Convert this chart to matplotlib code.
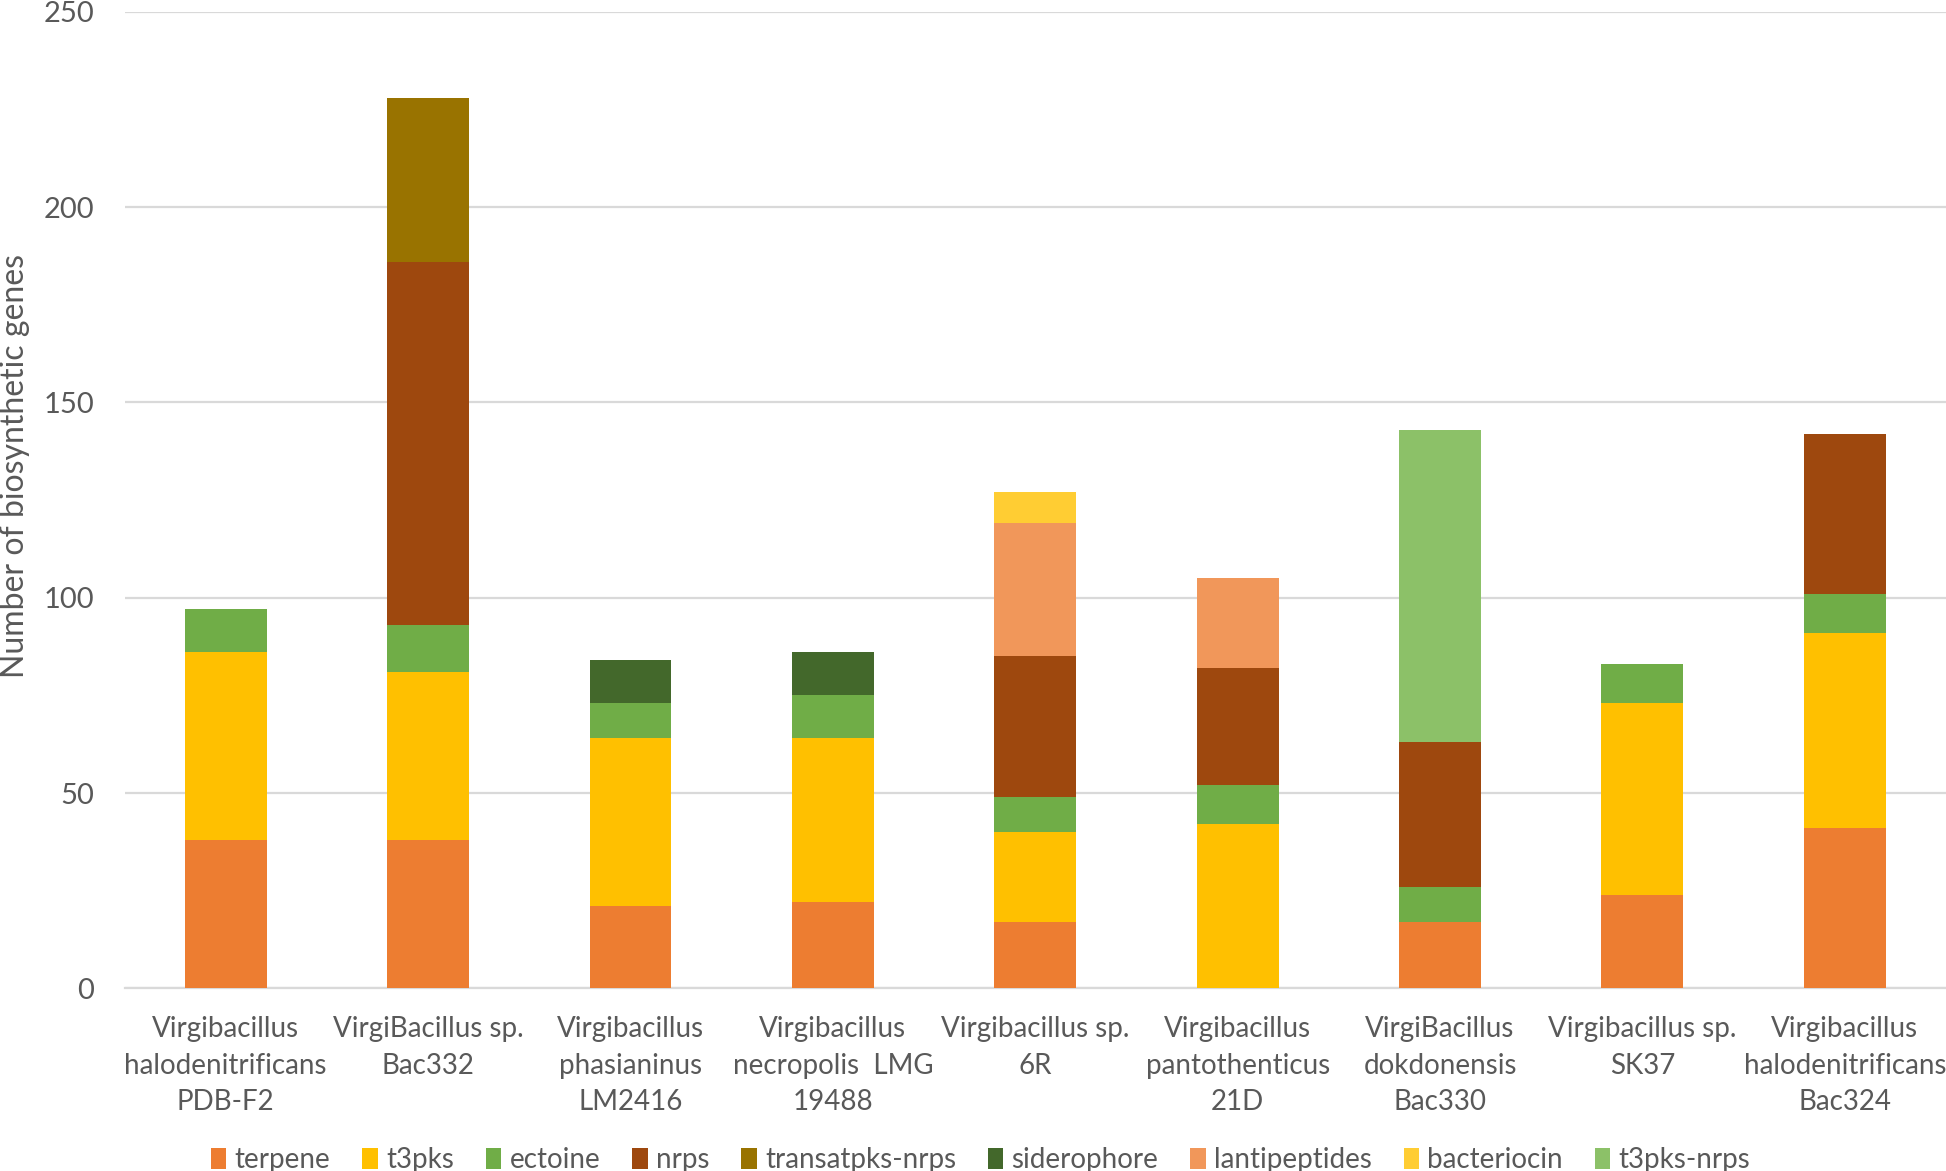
import numpy as np
import matplotlib
matplotlib.use("Agg")
import matplotlib.pyplot as plt

# ----------------------------------------------------
# Data
# ----------------------------------------------------
strains = [
    "Virgibacillus\nhalodenitrificans\nPDB-F2",
    "VirgiBacillus sp.\nBac332",
    "Virgibacillus\nphasianinus\nLM2416",
    "Virgibacillus\nnecropolis  LMG\n19488",
    "Virgibacillus sp.\n6R",
    "Virgibacillus\npantothenticus\n21D",
    "VirgiBacillus\ndokdonensis\nBac330",
    "Virgibacillus sp.\nSK37",
    "Virgibacillus\nhalodenitrificans\nBac324",
]

terpene = [38, 38, 21, 22, 17, 0, 17, 24, 41]
t3pks = [48, 43, 43, 42, 23, 42, 0, 49, 50]
ectoine = [11, 12, 9, 11, 9, 10, 9, 10, 10]
nrps = [0, 93, 0, 0, 36, 30, 37, 0, 41]
transatpks_nrps = [0, 42, 0, 0, 0, 0, 0, 0, 0]
siderophore = [0, 0, 11, 11, 0, 0, 0, 0, 0]
lantipeptides = [0, 0, 0, 0, 34, 23, 0, 0, 0]
bacteriocin = [0, 0, 0, 0, 8, 0, 0, 0, 0]
t3pks_nrps = [0, 0, 0, 0, 0, 0, 80, 0, 0]

series = [
    ("terpene", terpene, "#ED7D31"),
    ("t3pks", t3pks, "#FFC000"),
    ("ectoine", ectoine, "#70AD47"),
    ("nrps", nrps, "#9E480E"),
    ("transatpks-nrps", transatpks_nrps, "#997300"),
    ("siderophore", siderophore, "#43682B"),
    ("lantipeptides", lantipeptides, "#F1975A"),
    ("bacteriocin", bacteriocin, "#FFCD33"),
    ("t3pks-nrps", t3pks_nrps, "#8CC168"),
]

# ----------------------------------------------------
# Plot
# ----------------------------------------------------
plt.rcParams["font.family"] = ["Lato", "DejaVu Sans"]
text_col = "#595959"

fig = plt.figure(figsize=(19.46, 11.71), dpi=100)
ax = fig.add_axes([0.064, 0.156, 0.936, 0.834])

x = np.arange(len(strains))
bottom = np.zeros(len(strains))
for name, vals, col in series:
    vals = np.array(vals, dtype=float)
    ax.bar(x, vals, 0.405, bottom=bottom, color=col, label=name, zorder=3)
    bottom += vals

ax.set_xlim(-0.5, len(strains) - 0.5)
ax.set_ylim(0, 250)
ax.set_yticks(range(0, 251, 50))
ax.yaxis.grid(True, color="#D9D9D9", linewidth=1.6, zorder=0)
ax.set_axisbelow(True)

for s in ["top", "right", "left"]:
    ax.spines[s].set_visible(False)
ax.spines["bottom"].set_color("#D9D9D9")
ax.spines["bottom"].set_linewidth(1.6)

ax.set_xticks(x)
ax.set_xticklabels(strains, fontsize=20, color=text_col, linespacing=1.5)
ax.tick_params(axis="x", length=0, pad=20)
ax.tick_params(axis="y", length=0, pad=22, labelsize=21, labelcolor=text_col)

ax.set_ylabel("Number of biosynthetic genes", fontsize=23, color=text_col)
ax.yaxis.set_label_coords(-0.052, 0.535)

fig.legend(loc="lower center", bbox_to_anchor=(0.504, -0.023), ncol=9, frameon=False,
           fontsize=20, labelcolor=text_col, handlelength=0.55, handleheight=0.8,
           handletextpad=0.3, columnspacing=1.15)

fig.savefig("out.png", dpi=100)
